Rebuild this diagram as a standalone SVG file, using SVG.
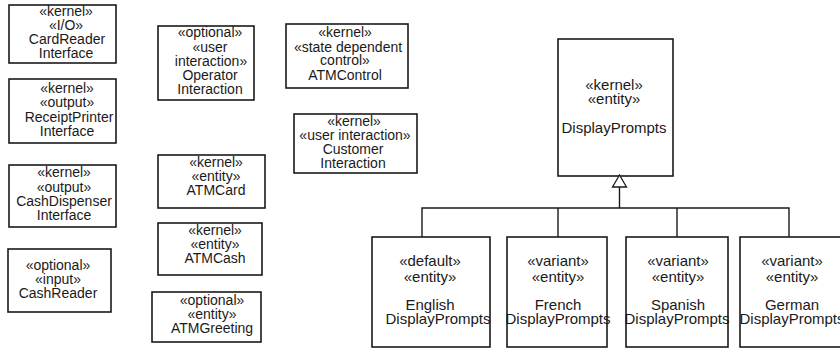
<svg xmlns="http://www.w3.org/2000/svg" width="840" height="348" viewBox="0 0 840 348">
<style>
rect.box{fill:#fff;stroke:#1a1a1a;stroke-width:1.6}
text{font-family:"Liberation Sans",Arial,sans-serif;font-size:14px;fill:#1a1a1a;text-anchor:middle}
text.r{font-size:15px}
.conn{fill:none;stroke:#1a1a1a;stroke-width:1.4}
</style>
<defs>
<marker id="gen" viewBox="0 0 16 14" refX="8" refY="1" markerWidth="16" markerHeight="14" markerUnits="userSpaceOnUse" orient="auto-start-reverse">
</marker>
</defs>
<rect width="840" height="348" fill="#fff"/>
<g id="CardReaderInterface">
<rect class="box" x="9" y="5" width="107" height="58"/>
<text x="66" y="16">«kernel»</text>
<text x="66" y="30">«I/O»</text>
<text x="67" y="44">CardReader</text>
<text x="66" y="58">Interface</text>
</g>
<g id="ReceiptPrinterInterface">
<rect class="box" x="9" y="79" width="107" height="64"/>
<text x="67" y="93">«kernel»</text>
<text x="67" y="107">«output»</text>
<text x="69" y="122">ReceiptPrinter</text>
<text x="67" y="136">Interface</text>
</g>
<g id="CashDispenserInterface">
<rect class="box" x="9" y="165" width="107" height="62"/>
<text x="64" y="177">«kernel»</text>
<text x="64" y="192">«output»</text>
<text x="64" y="206">CashDispenser</text>
<text x="64" y="220">Interface</text>
</g>
<g id="CashReader">
<rect class="box" x="8" y="249" width="103" height="63"/>
<text x="58" y="270">«optional»</text>
<text x="58" y="284">«input»</text>
<text x="58" y="298">CashReader</text>
</g>
<g id="OperatorInteraction">
<rect class="box" x="158" y="26" width="96" height="74"/>
<text x="210" y="37">«optional»</text>
<text x="210" y="52">«user</text>
<text x="211" y="66">interaction»</text>
<text x="210" y="80">Operator</text>
<text x="210" y="94">Interaction</text>
</g>
<g id="ATMControl">
<rect class="box" x="286" y="24" width="122" height="64"/>
<text x="345" y="37">«kernel»</text>
<text x="348" y="52">«state dependent</text>
<text x="345" y="65">control»</text>
<text x="345" y="80">ATMControl</text>
</g>
<g id="CustomerInteraction">
<rect class="box" x="294" y="114" width="123" height="59"/>
<text x="354" y="126">«kernel»</text>
<text x="355" y="140">«user interaction»</text>
<text x="353" y="154">Customer</text>
<text x="353" y="168">Interaction</text>
</g>
<g id="ATMCard">
<rect class="box" x="158" y="155" width="107" height="53"/>
<text x="216" y="167">«kernel»</text>
<text x="216" y="181">«entity»</text>
<text x="216" y="195">ATMCard</text>
</g>
<g id="ATMCash">
<rect class="box" x="158" y="223" width="104" height="52"/>
<text x="215" y="235">«kernel»</text>
<text x="215" y="249">«entity»</text>
<text x="215" y="263">ATMCash</text>
</g>
<g id="ATMGreeting">
<rect class="box" x="152" y="292" width="109" height="50"/>
<text x="212" y="305">«optional»</text>
<text x="212" y="319">«entity»</text>
<text x="212" y="333">ATMGreeting</text>
</g>
<g id="DisplayPrompts">
<rect class="box" x="558" y="39" width="115" height="137"/>
<text class="r" x="614" y="90">«kernel»</text>
<text class="r" x="614" y="104">«entity»</text>
<text class="r" x="614" y="133">DisplayPrompts</text>
</g>
<g id="connectors">
<path class="conn" d="M619.5 208V187M422 237V208H789V237M558 208V237M677 208V237"/>
<polygon points="619.5,175 612.5,187 626.5,187" fill="#fff" stroke="#1a1a1a" stroke-width="1.3"/>
</g>
<g id="EnglishDisplayPrompts">
<rect class="box" x="372" y="237" width="118" height="110"/>
<text class="r" x="430" y="266">«default»</text>
<text class="r" x="430" y="282">«entity»</text>
<text class="r" x="430" y="310">English</text>
<text class="r" x="438" y="324">DisplayPrompts</text>
</g>
<g id="FrenchDisplayPrompts">
<rect class="box" x="507" y="237" width="100" height="110"/>
<text class="r" x="558" y="266">«variant»</text>
<text class="r" x="558" y="282">«entity»</text>
<text class="r" x="558" y="310">French</text>
<text class="r" x="558" y="324">DisplayPrompts</text>
</g>
<g id="SpanishDisplayPrompts">
<rect class="box" x="626" y="237" width="102" height="110"/>
<text class="r" x="678" y="266">«variant»</text>
<text class="r" x="678" y="282">«entity»</text>
<text class="r" x="678" y="310">Spanish</text>
<text class="r" x="677" y="324">DisplayPrompts</text>
</g>
<g id="GermanDisplayPrompts">
<rect class="box" x="740" y="237" width="110" height="110"/>
<text class="r" x="792" y="266">«variant»</text>
<text class="r" x="792" y="282">«entity»</text>
<text class="r" x="792" y="310">German</text>
<text class="r" x="792" y="324">DisplayPrompts</text>
</g>
</svg>
